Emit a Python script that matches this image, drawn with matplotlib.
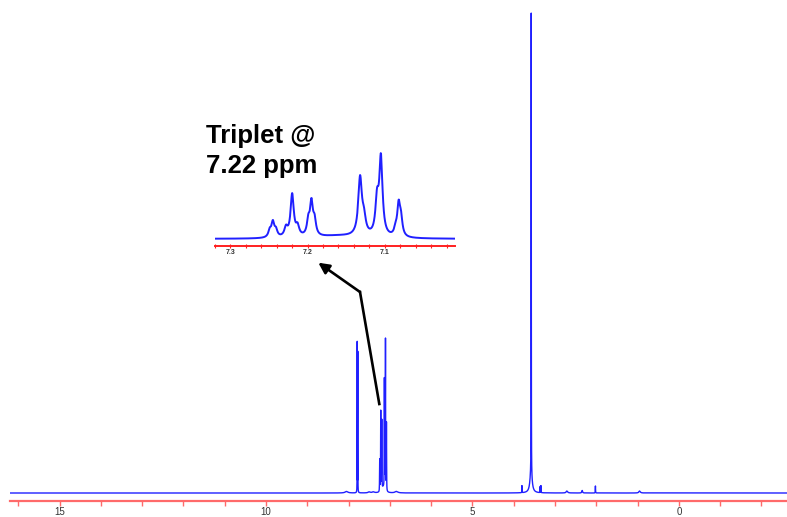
import numpy as np
import matplotlib.pyplot as plt
from matplotlib.lines import Line2D

# peak list: position (ppm), height, half width (ppm)
peak_ppm = [7.790, 7.776, 8.05, 7.50, 7.40, 6.84,
            7.249, 7.245, 7.241,
            7.228, 7.220, 7.213,
            7.199, 7.195, 7.191,
            7.132, 7.127,
            7.110, 7.105,
            7.086, 7.082, 7.079,
            7.16,
            3.80, 3.575, 3.58, 3.36, 3.34,
            2.71, 2.34, 2.02, 0.95]
peak_height = [150, 140, 1.5, 1.0, 1.0, 1.5,
               12, 26.5, 12,
               16, 76.7, 17,
               26, 58, 26,
               103.5, 27.2,
               60.2, 139,
               11, 55, 29,
               5,
               7, 465, 20, 6, 7,
               2, 2.5, 7, 2]
peak_width = [0.0015, 0.0015, 0.04, 0.03, 0.03, 0.04,
              0.0022, 0.0022, 0.0022,
              0.0025, 0.0025, 0.0025,
              0.0022, 0.0022, 0.0022,
              0.0028, 0.0028,
              0.0025, 0.0025,
              0.0022, 0.0022, 0.0022,
              0.035,
              0.002, 0.002, 0.03, 0.002, 0.002,
              0.02, 0.01, 0.003, 0.02]

main_ticks = [15, 10, 5, 0]
inset_ticks = [7.3, 7.2, 7.1]

ppm = np.arange(-2.7, 16.3, 0.0004)
spec = np.zeros_like(ppm)
for p, h, w in zip(peak_ppm, peak_height, peak_width):
    spec += h / (1 + ((ppm - p) / w) ** 2)

W, H = 787, 517
fig = plt.figure(figsize=(W / 100, H / 100), dpi=100)
plt.rcParams['font.family'] = ['Liberation Sans', 'DejaVu Sans']

blue = '#2020ff'
red = '#ff6a6a'

# main spectrum
ax = fig.add_axes([10 / W, 1 - 501 / H, 1 - 10 / W, 501 / H])
ax.plot(ppm, spec, color=blue, lw=1.0)
ax.set_xlim(16.2, -2.62)
ax.set_ylim(-8, 493)
for s in ['top', 'left', 'right']:
    ax.spines[s].set_visible(False)
ax.spines['bottom'].set_color(red)
ax.spines['bottom'].set_linewidth(1.6)
ax.set_yticks([])
ax.set_xticks(main_ticks)
ax.set_xticklabels([str(t) for t in main_ticks])
ax.set_xticks(np.arange(-2, 17, 1), minor=True)
ax.tick_params(axis='x', which='both', color=red, length=3.5, width=1,
               labelsize=7, labelcolor='#333333', pad=0.5)
ax.patch.set_visible(False)

# inset with the 7.0-7.3 ppm region
ins = fig.add_axes([215 / W, 1 - 246 / H, 240 / W, 96 / H])
ins.plot(ppm, spec, color=blue, lw=1.4)
ins.set_xlim(7.311, 7.009)
ins.set_ylim(-12.6, 160.6)
for s in ['top', 'left', 'right']:
    ins.spines[s].set_visible(False)
ins.spines['bottom'].set_color('#ff2020')
ins.spines['bottom'].set_linewidth(1.4)
ins.set_yticks([])
ins.set_xticks(inset_ticks)
ins.set_xticklabels([str(t) for t in inset_ticks])
ins.set_xticks(np.arange(7.02, 7.32, 0.02), minor=True)
ins.tick_params(axis='x', which='both', color='#ff2020', length=3, width=0.8,
                direction='inout', labelsize=5, labelcolor='#333333', pad=1)
for lab in ins.get_xticklabels():
    lab.set_fontweight('bold')
ins.patch.set_visible(False)

# label
fig.text(206 / W, 1 - 143 / H, 'Triplet @', fontsize=18.5, fontweight='bold',
         va='baseline', ha='left')
fig.text(206 / W, 1 - 173 / H, '7.22 ppm', fontsize=18.5, fontweight='bold',
         va='baseline', ha='left')

# arrow
fig.add_artist(Line2D([379.3 / W, 360 / W], [1 - 404 / H, 1 - 292 / H],
                      color='black', lw=1.9, transform=fig.transFigure))
fig.add_artist(plt.Annotation('', xy=(318.3 / W, 1 - 262.7 / H),
                              xytext=(360 / W, 1 - 292 / H),
                              xycoords='figure fraction',
                              textcoords='figure fraction',
                              arrowprops=dict(arrowstyle='-|>', color='black',
                                              lw=1.9, mutation_scale=16,
                                              shrinkA=0, shrinkB=0)))

fig.savefig('out.png', dpi=100)
